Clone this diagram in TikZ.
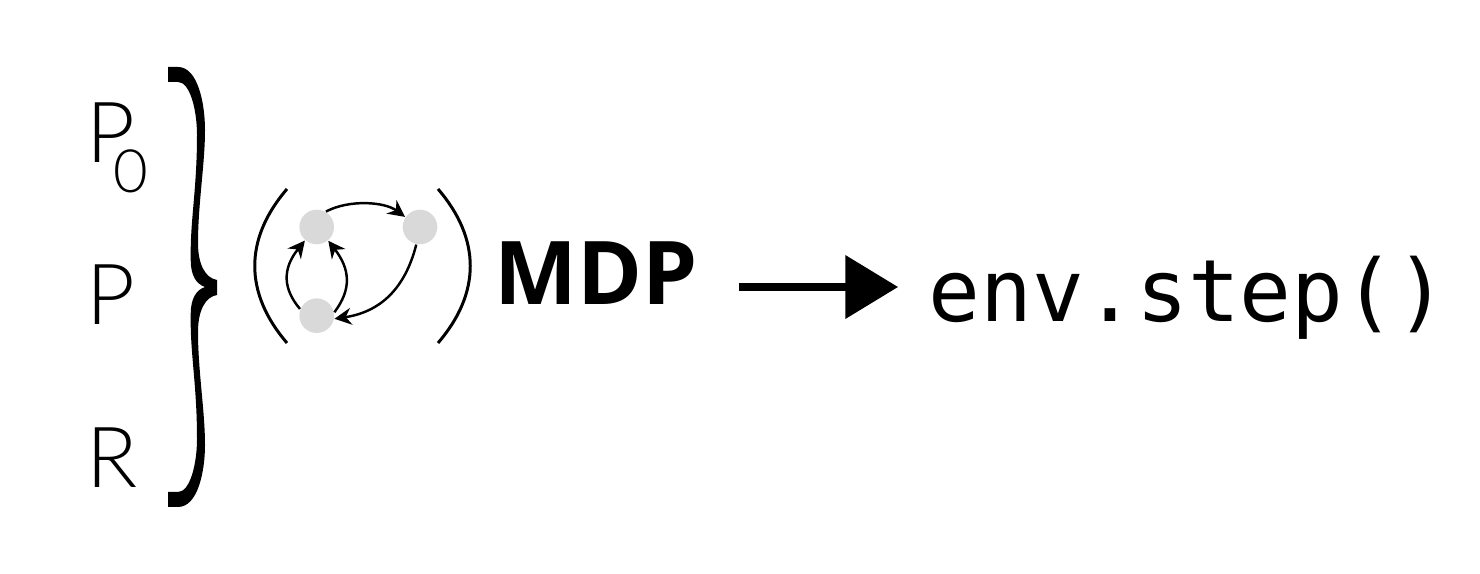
\documentclass[tikz,border=0pt]{standalone}
\usepackage{fontspec}
\usetikzlibrary{arrows.meta}
\setmainfont{Lato Light}
\newfontfamily\boldfont{Open Sans}
\newfontfamily\codefont{DejaVu Sans Mono}
\tikzset{
  state/.style={circle,fill=black!15,minimum size=34.6*0.2845pt,inner sep=0pt},
  flow/.style={line width=0.7pt,-{Stealth[length=4.8pt,width=4.8pt]}},
  paren/.style={line width=0.85pt},
  lbl/.style={anchor=base west,inner sep=0pt,font=\fontsize{24}{24}\selectfont},
}
\begin{document}
\begin{tikzpicture}[x=0.01cm,y=0.01cm]
\useasboundingbox (0,0) rectangle (1480,574);
\node[lbl] (pzero) at (86,411) {P\hspace*{-6.3pt}\raisebox{-8.5pt}{\fontsize{17}{17}\selectfont 0}};
\node[lbl] (ptrans) at (86,249) {P};
\node[lbl] (rew) at (86,86) {R};
% curly brace
\fill (168,507) -- (178,507) .. controls (198,507) and (205,470) .. (205,444)
  .. controls (205,410) and (198,370) .. (198,331) .. controls (198,310) and (205,296) .. (217,294)
  -- (217,279) .. controls (205,277) and (198,263) .. (198,242)
  .. controls (198,203) and (205,163) .. (205,129) .. controls (205,103) and (198,67) .. (178,67)
  -- (168,67) -- (168,82) -- (178,82) .. controls (190,82) and (197,110) .. (197,135)
  .. controls (197,190) and (190,220) .. (190.7,260) .. controls (190.7,275) and (196,284) .. (205,287)
  .. controls (196,290) and (190.7,299) .. (190.7,314) .. controls (190,354) and (197,384) .. (197,439)
  .. controls (197,464) and (190,492) .. (178,492) -- (168,492) -- cycle;
% matrix brackets
\draw[paren] (287,385) .. controls (244,335) and (244,281) .. (287,231);
\draw[paren] (438,385) .. controls (481,335) and (481,281) .. (438,231);
\node[state] (a) at (316.7,347) {};
\node[state] (b) at (420,347) {};
\node[state] (c) at (316.7,258.3) {};
\draw[flow] (a.59) .. controls (350,375) and (385,372) .. (b.146);
\draw[flow] (b.258) .. controls (405,285) and (380,262) .. (c.-10);
\draw[flow] (c.158) .. controls (283,285) and (282,305) .. (a.229);
\draw[flow] (c.11) .. controls (352,285) and (350,305) .. (a.-50);
\node[inner sep=0pt,anchor=base west,text height=16.5pt,text depth=6.3pt,font=\boldfont\bfseries\fontsize{25}{25}\selectfont] (mdp) at (494,269) {MDP};
\node[inner sep=0pt,anchor=base west,text height=21.3pt,text depth=1.4pt,font=\codefont\fontsize{24.5}{25}\selectfont] (env) at (928,252) {env.step()};
\draw[line width=2.2pt,-{Triangle[length=15pt,width=17.6pt]},shorten <=11.5pt,shorten >=8.5pt] (mdp.east) -- (env.west);
\end{tikzpicture}
\end{document}
